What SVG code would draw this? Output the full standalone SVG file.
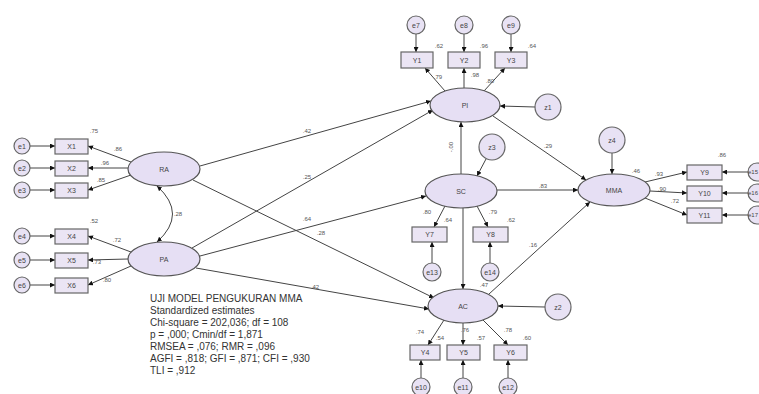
<svg xmlns="http://www.w3.org/2000/svg" width="759" height="394" viewBox="0 0 759 394">
<defs>
<marker id="ah" viewBox="0 0 10 10" refX="10" refY="5" markerWidth="5" markerHeight="5" orient="auto-start-reverse" markerUnits="userSpaceOnUse">
<path d="M0,0 L10,5 L0,10 z" fill="#111"/>
</marker>
<style>
.lat{fill:#e6dff4;stroke:#555;stroke-width:1.2}
.obs{fill:#ebe5f4;stroke:#666;stroke-width:1.2}
.err{fill:#e8e2f4;stroke:#666;stroke-width:1.2}
.c line,.c path{stroke:#444;stroke-width:1;fill:none;marker-end:url(#ah)}
.nt{font-family:"Liberation Sans",Arial,sans-serif;font-size:7px;fill:#444;text-anchor:middle;dominant-baseline:central}
.lb{font-family:"Liberation Sans",Arial,sans-serif;font-size:6px;fill:#555;text-anchor:middle}
.tx{font-family:"Liberation Sans",Arial,sans-serif;font-size:10px;fill:#333}
</style>
</defs>
<rect width="759" height="394" fill="#fff"/>

<g class="c" id="connectors">
<line x1="30" y1="146" x2="55" y2="146"/>
<line x1="30" y1="168" x2="55" y2="168"/>
<line x1="30" y1="190" x2="55" y2="190"/>
<line x1="30" y1="236" x2="55" y2="236"/>
<line x1="30" y1="260" x2="55" y2="260"/>
<line x1="30" y1="285" x2="55" y2="285"/>
<line x1="131" y1="162" x2="88" y2="146"/>
<line x1="128" y1="168" x2="88" y2="168"/>
<line x1="131" y1="175" x2="88" y2="190"/>
<line x1="131" y1="252" x2="88" y2="236"/>
<line x1="128" y1="259" x2="88" y2="260"/>
<line x1="131" y1="266" x2="88" y2="285"/>
<path d="M157,186 Q188,214 157,242" style="marker-start:url(#ah)"/>
<line x1="200" y1="166" x2="431" y2="101"/>
<line x1="192" y1="248" x2="433" y2="110"/>
<line x1="200" y1="256" x2="426" y2="196"/>
<line x1="193" y1="180" x2="434" y2="298"/>
<line x1="196" y1="268" x2="429" y2="309"/>
<line x1="461" y1="174" x2="461" y2="122"/>
<line x1="463" y1="208" x2="463" y2="289"/>
<line x1="493" y1="116" x2="586" y2="180"/>
<line x1="497" y1="190" x2="578" y2="190"/>
<line x1="489" y1="294" x2="590" y2="202"/>
<line x1="535" y1="107" x2="500" y2="106"/>
<line x1="486" y1="159" x2="477" y2="176"/>
<line x1="545" y1="307" x2="498" y2="306"/>
<line x1="612" y1="153" x2="612" y2="174"/>
<line x1="416" y1="34" x2="416" y2="52"/>
<line x1="464" y1="34" x2="464" y2="52"/>
<line x1="511" y1="34" x2="511" y2="52"/>
<line x1="445" y1="91" x2="425" y2="68"/>
<line x1="464" y1="88" x2="464" y2="68"/>
<line x1="484" y1="91" x2="505" y2="68"/>
<line x1="445" y1="206" x2="434" y2="227"/>
<line x1="477" y1="206" x2="488" y2="227"/>
<line x1="432" y1="263" x2="432" y2="242"/>
<line x1="490" y1="263" x2="490" y2="242"/>
<line x1="444" y1="320" x2="428" y2="345"/>
<line x1="463" y1="323" x2="463" y2="345"/>
<line x1="483" y1="320" x2="508" y2="345"/>
<line x1="421" y1="378" x2="421" y2="360"/>
<line x1="463" y1="378" x2="463" y2="360"/>
<line x1="508" y1="378" x2="508" y2="360"/>
<line x1="645" y1="182" x2="687" y2="172"/>
<line x1="650" y1="191" x2="687" y2="193"/>
<line x1="645" y1="198" x2="687" y2="215"/>
<line x1="748" y1="172" x2="722" y2="172"/>
<line x1="748" y1="193" x2="722" y2="193"/>
<line x1="748" y1="215" x2="722" y2="215"/>
</g>

<g id="e1"><circle class="err" cx="22" cy="146" r="8"/><text class="nt" x="22" y="146">e1</text></g>
<g id="e2"><circle class="err" cx="22" cy="168" r="8"/><text class="nt" x="22" y="168">e2</text></g>
<g id="e3"><circle class="err" cx="22" cy="190" r="8"/><text class="nt" x="22" y="190">e3</text></g>
<g id="e4"><circle class="err" cx="22" cy="236" r="8"/><text class="nt" x="22" y="236">e4</text></g>
<g id="e5"><circle class="err" cx="22" cy="260" r="8"/><text class="nt" x="22" y="260">e5</text></g>
<g id="e6"><circle class="err" cx="22" cy="285" r="8"/><text class="nt" x="22" y="285">e6</text></g>
<g id="X1"><rect class="obs" x="55" y="139" width="33" height="15"/><text class="nt" x="71.5" y="146.5">X1</text></g>
<g id="X2"><rect class="obs" x="55" y="161" width="33" height="15"/><text class="nt" x="71.5" y="168.5">X2</text></g>
<g id="X3"><rect class="obs" x="55" y="183" width="33" height="15"/><text class="nt" x="71.5" y="190.5">X3</text></g>
<g id="X4"><rect class="obs" x="55" y="229" width="33" height="15"/><text class="nt" x="71.5" y="236.5">X4</text></g>
<g id="X5"><rect class="obs" x="55" y="253" width="33" height="15"/><text class="nt" x="71.5" y="260.5">X5</text></g>
<g id="X6"><rect class="obs" x="55" y="278" width="33" height="15"/><text class="nt" x="71.5" y="285.5">X6</text></g>
<g id="RA"><ellipse class="lat" cx="164" cy="169" rx="36" ry="17"/><text class="nt" x="164" y="169">RA</text></g>
<g id="PA"><ellipse class="lat" cx="164" cy="259" rx="36" ry="17"/><text class="nt" x="164" y="259">PA</text></g>

<g id="e7"><circle class="err" cx="416" cy="25" r="9"/><text class="nt" x="416" y="25">e7</text></g>
<g id="e8"><circle class="err" cx="464" cy="25" r="9"/><text class="nt" x="464" y="25">e8</text></g>
<g id="e9"><circle class="err" cx="511" cy="25" r="9"/><text class="nt" x="511" y="25">e9</text></g>
<g id="Y1"><rect class="obs" x="401" y="52" width="32" height="16"/><text class="nt" x="417" y="60">Y1</text></g>
<g id="Y2"><rect class="obs" x="448" y="52" width="32" height="16"/><text class="nt" x="464" y="60">Y2</text></g>
<g id="Y3"><rect class="obs" x="495" y="52" width="32" height="16"/><text class="nt" x="511" y="60">Y3</text></g>
<g id="PI"><ellipse class="lat" cx="465" cy="105" rx="35" ry="17"/><text class="nt" x="465" y="105">PI</text></g>
<g id="z1"><circle class="err" cx="548" cy="107" r="13"/><text class="nt" x="548" y="107">z1</text></g>
<g id="z3"><circle class="err" cx="492" cy="147" r="13"/><text class="nt" x="492" y="147">z3</text></g>
<g id="SC"><ellipse class="lat" cx="461" cy="191" rx="36" ry="17"/><text class="nt" x="461" y="191">SC</text></g>
<g id="Y7"><rect class="obs" x="412" y="227" width="35" height="15"/><text class="nt" x="429.5" y="234.5">Y7</text></g>
<g id="Y8"><rect class="obs" x="473" y="227" width="35" height="15"/><text class="nt" x="490.5" y="234.5">Y8</text></g>
<g id="e13"><circle class="err" cx="432" cy="272" r="9"/><text class="nt" x="432" y="272">e13</text></g>
<g id="e14"><circle class="err" cx="490" cy="272" r="9"/><text class="nt" x="490" y="272">e14</text></g>
<g id="AC"><ellipse class="lat" cx="463" cy="306" rx="35" ry="17"/><text class="nt" x="463" y="306">AC</text></g>
<g id="z2"><circle class="err" cx="558" cy="307" r="13"/><text class="nt" x="558" y="307">z2</text></g>
<g id="Y4"><rect class="obs" x="410" y="345" width="30" height="15"/><text class="nt" x="425" y="352.5">Y4</text></g>
<g id="Y5"><rect class="obs" x="447" y="345" width="33" height="15"/><text class="nt" x="463.5" y="352.5">Y5</text></g>
<g id="Y6"><rect class="obs" x="494" y="345" width="33" height="15"/><text class="nt" x="510.5" y="352.5">Y6</text></g>
<g id="e10"><circle class="err" cx="421" cy="387" r="9"/><text class="nt" x="421" y="387">e10</text></g>
<g id="e11"><circle class="err" cx="463" cy="387" r="9"/><text class="nt" x="463" y="387">e11</text></g>
<g id="e12"><circle class="err" cx="508" cy="387" r="9"/><text class="nt" x="508" y="387">e12</text></g>
<g id="MMA"><ellipse class="lat" cx="614" cy="190" rx="36" ry="16"/><text class="nt" x="614" y="190">MMA</text></g>
<g id="z4"><circle class="err" cx="612" cy="140" r="13"/><text class="nt" x="612" y="140">z4</text></g>
<g id="Y9"><rect class="obs" x="687" y="165" width="35" height="15"/><text class="nt" x="704.5" y="172.5">Y9</text></g>
<g id="Y10"><rect class="obs" x="687" y="186" width="35" height="15"/><text class="nt" x="704.5" y="193.5">Y10</text></g>
<g id="Y11"><rect class="obs" x="687" y="208" width="35" height="15"/><text class="nt" x="704.5" y="215.5">Y11</text></g>
<g id="e15"><circle class="err" cx="757" cy="172" r="9"/><text class="nt" x="753" y="172" style="font-size:6px">e15</text></g>
<g id="e16"><circle class="err" cx="757" cy="193" r="9"/><text class="nt" x="753" y="193" style="font-size:6px">e16</text></g>
<g id="e17"><circle class="err" cx="757" cy="215" r="9"/><text class="nt" x="753" y="215" style="font-size:6px">e17</text></g>

<g id="labels">
<text class="lb" x="94" y="133">.75</text>
<text class="lb" x="118" y="151">.86</text>
<text class="lb" x="105" y="165">.96</text>
<text class="lb" x="101" y="182">.85</text>
<text class="lb" x="94" y="223">.52</text>
<text class="lb" x="117" y="242">.72</text>
<text class="lb" x="97" y="264">.73</text>
<text class="lb" x="107" y="282">.80</text>
<text class="lb" x="178" y="216">.28</text>
<text class="lb" x="307" y="133">.42</text>
<text class="lb" x="307" y="179">.25</text>
<text class="lb" x="307" y="221">.64</text>
<text class="lb" x="321" y="235">.28</text>
<text class="lb" x="315" y="289">.42</text>
<text class="lb" x="439" y="48">.62</text>
<text class="lb" x="484" y="48">.96</text>
<text class="lb" x="532" y="48">.64</text>
<text class="lb" x="438" y="79">.79</text>
<text class="lb" x="475" y="77">.98</text>
<text class="lb" x="490" y="83">.80</text>
<text class="lb" x="453" y="147" transform="rotate(-90 453 147)">-.00</text>
<text class="lb" x="427" y="214">.80</text>
<text class="lb" x="448" y="222">.64</text>
<text class="lb" x="493" y="214">.79</text>
<text class="lb" x="511" y="222">.62</text>
<text class="lb" x="548" y="148">.29</text>
<text class="lb" x="543" y="188">.83</text>
<text class="lb" x="533" y="247">.16</text>
<text class="lb" x="636" y="173">.46</text>
<text class="lb" x="659" y="176">.93</text>
<text class="lb" x="662" y="191">.90</text>
<text class="lb" x="675" y="203">.72</text>
<text class="lb" x="722" y="157">.86</text>
<text class="lb" x="484" y="287">.47</text>
<text class="lb" x="420" y="334">.74</text>
<text class="lb" x="465" y="332">.76</text>
<text class="lb" x="508" y="332">.78</text>
<text class="lb" x="440" y="340">.54</text>
<text class="lb" x="481" y="340">.57</text>
<text class="lb" x="527" y="340">.60</text>
</g>

<g id="fit">
<text class="tx" x="150" y="302">UJI MODEL PENGUKURAN MMA</text>
<text class="tx" x="150" y="314">Standardized estimates</text>
<text class="tx" x="150" y="326">Chi-square = 202,036; df = 108</text>
<text class="tx" x="150" y="338">p = ,000; Cmin/df = 1,871</text>
<text class="tx" x="150" y="350">RMSEA = ,076; RMR = ,096</text>
<text class="tx" x="150" y="362">AGFI = ,818; GFI = ,871; CFI = ,930</text>
<text class="tx" x="150" y="374">TLI = ,912</text>
</g>
</svg>
